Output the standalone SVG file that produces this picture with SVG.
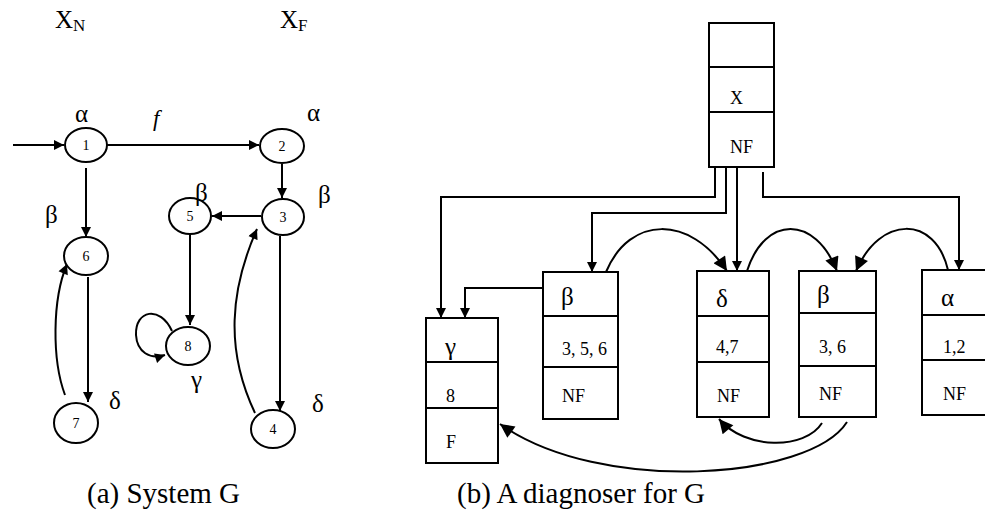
<svg xmlns="http://www.w3.org/2000/svg" width="985" height="519" viewBox="0 0 985 519" font-family="'Liberation Serif','DejaVu Serif','Times New Roman',serif">
<style>
text{font-family:'Liberation Serif','DejaVu Serif','Times New Roman',serif;fill:#000}
.st ellipse{fill:#fff;stroke:#000;stroke-width:2}
.st text{font-size:14px;text-anchor:middle}
.e{fill:none;stroke:#000;stroke-width:2}
.box rect,.box line{fill:#fff;stroke:#000;stroke-width:2}
.g{font-size:25px}
.s{font-size:18px}
.cap{font-size:29px}
.lbl{font-size:25px}
</style>
<defs>
<marker id="a" viewBox="0 0 10 10" refX="10" refY="5" markerWidth="11" markerHeight="10" markerUnits="userSpaceOnUse" orient="auto">
<path d="M0,0 L10,5 L0,10 Z" fill="#000"/>
</marker>
<marker id="b" viewBox="0 0 10 10" refX="10" refY="5" markerWidth="16" markerHeight="14" markerUnits="userSpaceOnUse" orient="auto">
<path d="M0,0 L10,5 L0,10 Z" fill="#000"/>
</marker>
</defs>

<!-- left: system G -->
<text x="55" y="28" class="lbl">X<tspan font-size="17" dy="3">N</tspan></text>
<text x="280" y="28" class="lbl">X<tspan font-size="17" dy="3">F</tspan></text>

<g id="connectors">
<path class="e" d="M13,145 H64" marker-end="url(#a)"/>
<path class="e" d="M107,145 H259" marker-end="url(#a)"/>
<path class="e" d="M282,164 V198" marker-end="url(#a)"/>
<path class="e" d="M261,216 H212" marker-end="url(#a)"/>
<path class="e" d="M86,168 V237" marker-end="url(#a)"/>
<path class="e" d="M88,277 V402" marker-end="url(#a)"/>
<path class="e" d="M65,395 C52,360 52,300 67,264" marker-end="url(#a)"/>
<path class="e" d="M190,235 V325" marker-end="url(#a)"/>
<path class="e" d="M172,331 C160,305 135,310 136,335 C137,352 150,360 165,355" marker-end="url(#a)"/>
<path class="e" d="M280,236 V411" marker-end="url(#a)"/>
<path class="e" d="M255,413 C225,350 230,290 257,229" marker-end="url(#a)"/>

<!-- diagnoser connectors -->
<path class="e" d="M715,167 V197 H441 V318" marker-end="url(#a)"/>
<path class="e" d="M726,167 V213 H592 V272" marker-end="url(#a)"/>
<path class="e" d="M737,167 V271" marker-end="url(#a)"/>
<path class="e" d="M763,172 V197 H959 V270" marker-end="url(#a)"/>
<path class="e" d="M543,288 H465 V318" marker-end="url(#a)"/>
<path class="e" d="M606,272 C630,215 690,215 727,271" marker-end="url(#b)"/>
<path class="e" d="M747,271 C765,215 815,215 837,271" marker-end="url(#b)"/>
<path class="e" d="M948,270 C935,215 880,215 856,271" marker-end="url(#b)"/>
<path class="e" d="M822,423 C805,450 745,450 719,419" marker-end="url(#b)"/>
<path class="e" d="M847,422 C810,480 600,495 500,424" marker-end="url(#b)"/>
</g>

<g id="n1" class="st"><ellipse cx="86" cy="145" rx="21" ry="17"/><text x="86" y="150">1</text></g>
<g id="n2" class="st"><ellipse cx="282" cy="146" rx="22" ry="17"/><text x="282" y="151">2</text></g>
<g id="n3" class="st"><ellipse cx="283" cy="217" rx="21" ry="18"/><text x="283" y="222">3</text></g>
<g id="n5" class="st"><ellipse cx="190" cy="216" rx="21" ry="18"/><text x="190" y="221">5</text></g>
<g id="n6" class="st"><ellipse cx="86" cy="256" rx="22" ry="19"/><text x="86" y="261">6</text></g>
<g id="n7" class="st"><ellipse cx="76" cy="423" rx="22" ry="20"/><text x="76" y="428">7</text></g>
<g id="n8" class="st"><ellipse cx="188" cy="346" rx="22" ry="19"/><text x="188" y="351">8</text></g>
<g id="n4" class="st"><ellipse cx="273" cy="429" rx="22" ry="19"/><text x="273" y="434">4</text></g>

<g id="labels-a">
<text x="75" y="122" class="g">α</text>
<text x="307" y="121" class="g">α</text>
<text x="153" y="126" font-size="23" font-style="italic">f</text>
<text x="195" y="201" class="g">β</text>
<text x="318" y="203" class="g">β</text>
<text x="45" y="223" class="g">β</text>
<text x="109" y="409" class="g">δ</text>
<text x="312" y="412" class="g">δ</text>
<text x="191" y="388" class="g">γ</text>
</g>

<!-- diagnoser boxes -->
<g id="b0" class="box">
<rect x="709" y="23" width="65" height="144"/>
<line x1="709" y1="67" x2="774" y2="67"/><line x1="709" y1="112" x2="774" y2="112"/>
<text x="730" y="104" class="s">X</text><text x="730" y="153" class="s">NF</text>
</g>
<g id="bgamma" class="box">
<rect x="426" y="318" width="72" height="145"/>
<line x1="426" y1="362" x2="498" y2="362"/><line x1="426" y1="408" x2="498" y2="408"/>
<text x="445" y="355" class="g">γ</text><text x="446" y="402" class="s">8</text><text x="446" y="448" class="s">F</text>
</g>
<g id="bbeta1" class="box">
<rect x="543" y="272" width="75" height="147"/>
<line x1="543" y1="316" x2="618" y2="316"/><line x1="543" y1="367" x2="618" y2="367"/>
<text x="561" y="305" class="g">β</text><text x="562" y="355" class="s">3, 5, 6</text><text x="562" y="402" class="s">NF</text>
</g>
<g id="bdelta" class="box">
<rect x="697" y="271" width="72" height="146"/>
<line x1="697" y1="316" x2="769" y2="316"/><line x1="697" y1="362" x2="769" y2="362"/>
<text x="716" y="307" class="g">δ</text><text x="716" y="353" class="s">4,7</text><text x="717" y="402" class="s">NF</text>
</g>
<g id="bbeta2" class="box">
<rect x="799" y="271" width="77" height="146"/>
<line x1="799" y1="313" x2="876" y2="313"/><line x1="799" y1="366" x2="876" y2="366"/>
<text x="817" y="303" class="g">β</text><text x="819" y="353" class="s">3,  6</text><text x="819" y="400" class="s">NF</text>
</g>
<g id="balpha" class="box">
<rect x="922" y="270" width="80" height="145"/>
<line x1="922" y1="315" x2="1002" y2="315"/><line x1="922" y1="360" x2="1002" y2="360"/>
<text x="941" y="306" class="g">α</text><text x="943" y="353" class="s">1,2</text><text x="943" y="400" class="s">NF</text>
</g>

<text x="87" y="503" class="cap">(a) System G</text>
<text x="457" y="503" class="cap">(b) A diagnoser for G</text>
</svg>
